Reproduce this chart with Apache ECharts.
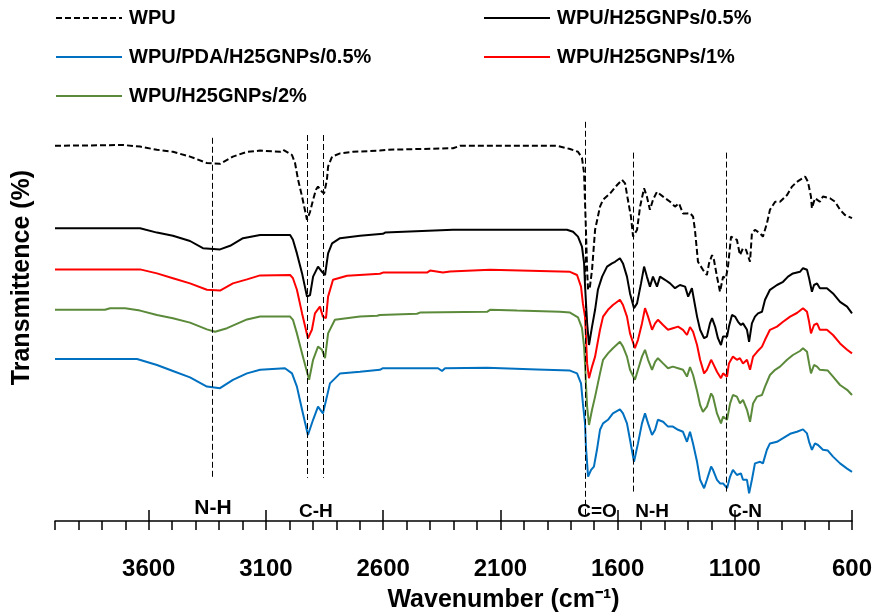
<!DOCTYPE html>
<html>
<head>
<meta charset="utf-8">
<script src="https://cdn.jsdelivr.net/npm/echarts@6/dist/echarts.min.js"></script>
<style>
  html, body { margin: 0; padding: 0; background: #fff; }
  #chart { width: 877px; height: 614px; }
</style>
</head>
<body>
<div id="chart"></div>
<script>
// FTIR spectra, [wavenumber (cm-1), transmittance (offset, a.u.)]
const wpu = [
  [4000, 93.8], [3710, 94.0], [3637, 93.6], [3565, 92.8], [3497, 92.3], [3424, 91.1], [3352, 89.5],
  [3296, 89.3], [3241, 91.1], [3181, 92.3], [3125, 92.6], [3040, 92.3], [3027, 92.8], [2989, 91.5],
  [2976, 89.5], [2963, 85.3], [2946, 81.1], [2934, 77.8], [2925, 75.3], [2912, 77.3], [2899, 80.3],
  [2887, 82.8], [2878, 83.6], [2861, 82.3], [2852, 81.9], [2840, 85.3], [2835, 88.6], [2818, 91.1],
  [2784, 91.9], [2729, 92.3], [2614, 92.6], [2584, 92.8], [2302, 93.2], [2272, 93.8], [1858, 93.8],
  [1803, 93.0], [1769, 92.3], [1752, 90.8], [1743, 87.0], [1735, 72.8], [1730, 62.8], [1726, 57.8],
  [1718, 58.6], [1709, 62.8], [1696, 72.8], [1675, 78.6], [1662, 80.3], [1632, 81.9], [1602, 84.0],
  [1581, 85.3], [1568, 84.4], [1556, 80.3], [1543, 76.1], [1534, 71.1], [1517, 72.8], [1504, 78.6],
  [1487, 83.2], [1475, 81.1], [1462, 77.8], [1449, 80.3], [1432, 82.3], [1406, 81.1], [1376, 79.8],
  [1355, 78.6], [1338, 79.4], [1321, 76.9], [1304, 76.9], [1291, 77.0], [1278, 76.1], [1270, 72.8],
  [1257, 64.8], [1236, 62.8], [1219, 61.5], [1210, 64.4], [1197, 66.5], [1189, 65.3], [1176, 61.1],
  [1163, 57.3], [1150, 61.1], [1138, 60.7], [1129, 63.6], [1116, 71.1], [1108, 71.5], [1091, 70.3],
  [1078, 66.5], [1065, 68.2], [1052, 67.8], [1035, 64.8], [1027, 71.9], [1014, 72.8], [992, 71.9],
  [980, 71.1], [963, 74.4], [950, 77.8], [928, 79.8], [907, 79.8], [877, 81.5], [856, 83.6],
  [835, 84.8], [822, 85.3], [800, 86.1], [788, 84.8], [775, 81.1], [771, 78.2], [758, 80.7],
  [737, 79.8], [724, 81.1], [694, 80.7], [672, 79.8], [651, 77.8], [630, 76.5], [600, 75.7]
];

const wpuGnp05 = [
  [4000, 73.2], [3637, 73.2], [3565, 72.1], [3497, 71.3], [3424, 70.0], [3369, 68.2], [3296, 67.9],
  [3253, 68.8], [3198, 70.7], [3125, 71.5], [2997, 71.5], [2985, 70.3], [2968, 66.9], [2946, 61.9],
  [2925, 56.1], [2912, 56.5], [2899, 61.1], [2878, 63.6], [2861, 62.3], [2848, 61.5], [2835, 66.9],
  [2818, 69.4], [2784, 70.7], [2699, 71.3], [2601, 71.8], [2592, 72.1], [2302, 72.8], [1816, 72.8],
  [1790, 72.3], [1769, 71.1], [1752, 68.6], [1743, 64.5], [1739, 59.0], [1730, 49.5], [1722, 44.0],
  [1709, 48.6], [1696, 52.8], [1684, 57.8], [1666, 61.1], [1645, 63.6], [1624, 64.4], [1611, 64.8],
  [1590, 65.7], [1577, 64.4], [1560, 61.1], [1547, 56.9], [1530, 53.2], [1517, 54.4], [1500, 59.4],
  [1487, 63.6], [1475, 61.1], [1462, 58.6], [1449, 61.1], [1432, 58.6], [1419, 61.1], [1398, 60.3],
  [1376, 59.4], [1355, 58.2], [1334, 59.0], [1312, 58.6], [1299, 56.1], [1283, 58.2], [1261, 51.1],
  [1248, 47.8], [1231, 45.7], [1219, 46.1], [1206, 49.4], [1197, 50.7], [1184, 48.6], [1172, 45.7],
  [1159, 44.0], [1150, 46.1], [1133, 46.1], [1125, 48.6], [1112, 51.5], [1099, 51.1], [1086, 49.8],
  [1074, 49.0], [1065, 49.4], [1048, 47.8], [1039, 44.8], [1027, 49.4], [1014, 51.1], [1001, 51.9],
  [984, 52.3], [971, 55.3], [950, 57.8], [920, 59.0], [894, 59.8], [873, 61.1], [852, 61.9],
  [822, 62.3], [809, 63.2], [792, 62.8], [783, 60.7], [771, 57.3], [762, 59.0], [749, 59.4],
  [737, 58.2], [707, 58.2], [681, 56.9], [651, 54.8], [621, 53.6], [600, 51.9]
];

const wpuGnp1 = [
  [4000, 62.9], [3637, 62.9], [3565, 61.9], [3497, 60.7], [3424, 59.4], [3352, 57.8], [3296, 57.6],
  [3241, 59.4], [3181, 60.4], [3125, 61.4], [2997, 61.5], [2985, 60.7], [2968, 57.8], [2946, 51.9],
  [2921, 45.7], [2904, 47.8], [2891, 51.9], [2870, 53.6], [2857, 51.1], [2844, 50.7], [2835, 56.1],
  [2814, 60.3], [2754, 61.3], [2614, 61.8], [2601, 62.1], [2413, 62.1], [2400, 62.6], [2345, 62.1],
  [2315, 62.4], [2144, 62.8], [1803, 62.3], [1773, 61.5], [1756, 58.6], [1748, 54.4], [1739, 51.1],
  [1735, 46.1], [1730, 39.4], [1722, 35.7], [1709, 38.6], [1696, 41.1], [1675, 47.8], [1662, 51.1],
  [1641, 52.8], [1620, 54.0], [1590, 55.3], [1577, 54.0], [1560, 51.1], [1547, 46.9], [1526, 43.2],
  [1513, 45.3], [1496, 49.4], [1483, 53.2], [1470, 51.1], [1453, 47.8], [1440, 49.4], [1428, 50.3],
  [1406, 49.0], [1385, 47.8], [1364, 48.2], [1342, 48.6], [1321, 47.8], [1304, 46.5], [1291, 48.5],
  [1278, 47.3], [1261, 44.0], [1248, 40.3], [1231, 36.9], [1219, 37.8], [1201, 40.3], [1193, 39.4],
  [1176, 37.3], [1159, 35.7], [1150, 36.9], [1133, 36.1], [1125, 39.4], [1108, 41.1], [1091, 40.3],
  [1078, 40.7], [1065, 39.4], [1048, 40.3], [1035, 37.8], [1022, 41.1], [1005, 42.3], [984, 43.6],
  [971, 45.3], [950, 47.8], [920, 48.6], [894, 49.8], [864, 51.1], [835, 52.0], [809, 53.2],
  [792, 52.3], [783, 49.8], [775, 46.9], [762, 49.0], [749, 49.4], [737, 47.8], [707, 47.8],
  [681, 46.5], [651, 44.4], [621, 42.8], [600, 41.9]
];

const wpuGnp2 = [
  [4000, 52.8], [3787, 52.8], [3765, 53.2], [3701, 53.2], [3637, 52.6], [3565, 51.5], [3497, 50.7],
  [3424, 49.6], [3352, 47.9], [3317, 47.3], [3266, 48.2], [3181, 50.4], [3125, 51.1], [2997, 51.1],
  [2985, 50.3], [2968, 46.9], [2946, 41.9], [2916, 35.3], [2899, 40.3], [2878, 43.6], [2861, 42.8],
  [2848, 40.7], [2835, 46.9], [2806, 50.3], [2699, 51.1], [2626, 51.3], [2614, 51.5], [2456, 51.8],
  [2443, 52.1], [2157, 52.3], [2144, 52.8], [2029, 52.6], [1846, 52.3], [1803, 52.1], [1769, 50.9],
  [1752, 48.3], [1743, 43.6], [1739, 39.4], [1735, 34.4], [1730, 28.6], [1722, 24.0], [1709, 27.8],
  [1696, 31.1], [1675, 36.9], [1662, 40.3], [1641, 41.9], [1620, 43.2], [1590, 44.8], [1577, 43.6],
  [1560, 41.1], [1547, 37.8], [1526, 35.3], [1513, 37.8], [1496, 41.1], [1483, 42.8], [1470, 40.3],
  [1453, 37.8], [1440, 39.8], [1428, 40.7], [1406, 39.4], [1385, 38.2], [1364, 38.6], [1342, 38.2],
  [1321, 37.8], [1304, 36.1], [1291, 38.5], [1278, 36.5], [1261, 32.5], [1248, 29.0], [1236, 27.3],
  [1219, 28.6], [1201, 31.9], [1193, 31.1], [1176, 26.9], [1159, 24.4], [1150, 26.1], [1133, 25.3],
  [1120, 29.4], [1108, 31.5], [1091, 31.1], [1078, 29.4], [1065, 30.3], [1048, 27.8], [1035, 24.8],
  [1022, 29.4], [1005, 31.1], [984, 31.5], [971, 33.6], [950, 36.5], [928, 37.8], [907, 38.6],
  [877, 40.3], [852, 41.5], [822, 42.5], [809, 43.2], [792, 42.3], [783, 39.4], [775, 36.9],
  [762, 39.0], [749, 38.6], [737, 37.8], [703, 37.6], [681, 36.1], [651, 34.0], [621, 32.8], [600, 31.5]
];

const wpuPdaGnp05 = [
  [4000, 40.5], [3650, 40.5], [3565, 39.0], [3497, 37.5], [3424, 35.9], [3352, 33.6], [3296, 33.2],
  [3241, 35.3], [3181, 36.9], [3125, 37.8], [3019, 38.2], [2989, 36.9], [2968, 33.6], [2946, 27.8],
  [2921, 21.5], [2899, 25.3], [2878, 28.6], [2857, 26.9], [2840, 31.1], [2827, 34.4], [2784, 36.9],
  [2699, 37.3], [2614, 37.8], [2601, 38.2], [2366, 38.2], [2349, 37.5], [2336, 38.2], [2157, 38.3],
  [1944, 37.9], [1803, 37.6], [1773, 36.9], [1756, 34.4], [1748, 29.4], [1739, 24.4], [1735, 18.6],
  [1726, 11.1], [1713, 12.8], [1701, 13.6], [1688, 17.8], [1675, 22.8], [1662, 24.4], [1641, 25.3],
  [1620, 26.9], [1590, 27.9], [1577, 26.9], [1560, 24.4], [1547, 20.3], [1530, 14.8], [1513, 19.4],
  [1496, 24.4], [1483, 26.9], [1470, 24.4], [1453, 21.5], [1440, 22.8], [1428, 25.3], [1406, 24.8],
  [1385, 23.6], [1364, 23.6], [1342, 22.8], [1321, 22.3], [1304, 19.8], [1291, 22.3], [1278, 19.3],
  [1261, 14.8], [1248, 10.3], [1231, 8.2], [1219, 10.3], [1201, 13.6], [1193, 12.8], [1176, 10.3],
  [1163, 9.4], [1150, 9.4], [1133, 8.2], [1120, 11.1], [1108, 12.8], [1091, 11.5], [1074, 11.9],
  [1065, 10.3], [1048, 10.3], [1039, 6.9], [1027, 10.3], [1014, 14.4], [992, 14.8], [980, 14.4],
  [963, 17.8], [950, 19.4], [920, 19.8], [894, 20.7], [864, 21.8], [835, 22.3], [809, 22.9],
  [792, 21.9], [783, 19.8], [771, 17.8], [758, 19.4], [745, 19.0], [724, 17.8], [703, 17.6],
  [681, 16.1], [651, 14.4], [621, 13.1], [600, 12.3]
];

// dashed guide lines: [wavenumber, top, bottom]
const guideLines = [
  [3331, 95.8, 10.3],
  [2922, 96.5, 10.8],
  [2855, 96.5, 10.8],
  [1739, 99.8, 1.0],
  [1533, 92.1, 7.3],
  [1135, 92.1, 7.3]
];

// band labels: [text, wavenumber, y, font size]
const bandLabels = [
  ['N-H', 3326, 3.2, 21],
  ['C-H', 2887, 2.2, 19],
  ['C=O', 1688, 2.2, 19],
  ['N-H', 1453, 2.2, 19],
  ['C-N', 1056, 2.2, 19]
];

const majorTicks = [3600, 3100, 2600, 2100, 1600, 1100, 600];

const FONT = '"Liberation Sans", Arial, sans-serif';

const seriesDefs = [
  { name: 'WPU', data: wpu, color: '#000000', type: [6, 3] },
  { name: 'WPU/H25GNPs/0.5%', data: wpuGnp05, color: '#000000', type: 'solid' },
  { name: 'WPU/H25GNPs/1%', data: wpuGnp1, color: '#ff0000', type: 'solid' },
  { name: 'WPU/H25GNPs/2%', data: wpuGnp2, color: '#5b8a3a', type: 'solid' },
  { name: 'WPU/PDA/H25GNPs/0.5%', data: wpuPdaGnp05, color: '#0070c0', type: 'solid' }
];

const chart = echarts.init(document.getElementById('chart'), null, { renderer: 'canvas' });

const legendText = {
  fontFamily: FONT,
  fontSize: 20,
  fontWeight: 'bold',
  color: '#000',
  lineHeight: 20,
  padding: [0, 0, 0, 2]
};

const legendBase = {
  orient: 'vertical',
  top: 8,
  padding: 0,
  itemWidth: 66,
  itemHeight: 14,
  itemGap: 19,
  selectedMode: false,
  itemStyle: { opacity: 0 },
  textStyle: legendText
};

const lineSeries = seriesDefs.map((s) => ({
  name: s.name,
  type: 'line',
  data: s.data,
  symbol: 'none',
  showSymbol: false,
  smooth: false,
  color: s.color,
  lineStyle: { color: s.color, width: 2, type: s.type },
  emphasis: { disabled: true }
}));

// band names sit on invisible points; the scatter default opacity (0.8) is reset so text stays black
const annotationSeries = {
  name: 'bands',
  type: 'scatter',
  symbolSize: 1,
  itemStyle: { color: '#ffffff', opacity: 1 },
  silent: true,
  data: bandLabels.map(([text, x, y, size]) => ({
    name: text,
    value: [x, y],
    label: {
      show: true,
      position: 'inside',
      formatter: text,
      fontFamily: FONT,
      fontSize: size,
      fontWeight: 'bold',
      color: '#000',
      opacity: 1,
      textBorderWidth: 0
    }
  })),
  markLine: {
    silent: true,
    symbol: 'none',
    label: { show: false },
    lineStyle: { color: '#000', width: 1, type: [6, 3] },
    data: guideLines.map(([x, top, bottom]) => [
      { coord: [x, top] },
      { coord: [x, bottom] }
    ])
  }
};

chart.setOption({
  animation: false,
  backgroundColor: '#fff',
  legend: [
    Object.assign({}, legendBase, {
      left: 55,
      data: ['WPU', 'WPU/PDA/H25GNPs/0.5%', 'WPU/H25GNPs/2%']
    }),
    Object.assign({}, legendBase, {
      left: 483,
      data: ['WPU/H25GNPs/0.5%', 'WPU/H25GNPs/1%']
    })
  ],
  grid: { left: 55, right: 25, top: 34, bottom: 93, outerBoundsMode: 'none', containLabel: false },
  xAxis: [
    {
      type: 'value',
      min: 600,
      max: 4000,
      interval: 100,
      inverse: true,
      position: 'bottom',
      name: 'Wavenumber (cm⁻¹)',
      nameLocation: 'middle',
      nameGap: 67,
      nameTextStyle: {
        fontFamily: FONT,
        fontSize: 25,
        fontWeight: 'bold',
        color: '#000',
        padding: [0, 0, 0, 100]
      },
      axisLine: { show: true, lineStyle: { color: '#000', width: 1.5 } },
      axisTick: { show: true, length: 9, lineStyle: { color: '#000', width: 1.5 } },
      axisLabel: {
        customValues: majorTicks,
        formatter: (v) => String(v),
        margin: 36,
        fontFamily: FONT,
        fontSize: 24,
        fontWeight: 'bold',
        color: '#000'
      },
      splitLine: { show: false }
    },
    {
      type: 'value',
      min: 600,
      max: 4000,
      interval: 100,
      inverse: true,
      position: 'bottom',
      axisLine: { show: false },
      axisTick: {
        show: true,
        inside: true,
        length: 11,
        customValues: majorTicks,
        lineStyle: { color: '#000', width: 1.5 }
      },
      axisLabel: { show: false },
      splitLine: { show: false }
    }
  ],
  yAxis: {
    type: 'value',
    min: 0,
    max: 121.75,
    name: 'Transmittence (%)',
    nameLocation: 'middle',
    nameGap: 20,
    nameTextStyle: {
      fontFamily: FONT,
      fontSize: 25,
      fontWeight: 'bold',
      color: '#000'
    },
    axisLine: { show: false },
    axisTick: { show: false },
    axisLabel: { show: false },
    splitLine: { show: false }
  },
  series: [...lineSeries, annotationSeries]
});
</script>
</body>
</html>
